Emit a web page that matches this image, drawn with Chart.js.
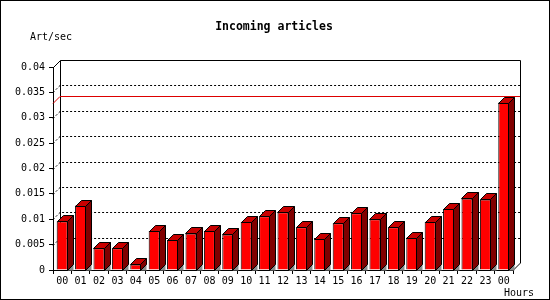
<!DOCTYPE html>
<html>
<head>
<meta charset="utf-8">
<script src="https://cdn.jsdelivr.net/npm/chart.js@4.4.1/dist/chart.umd.min.js"></script>
<style>
  html, body { margin: 0; padding: 0; background: #fff; }
  canvas { display: block; }
</style>
</head>
<body>
<canvas id="chart" width="550" height="300"></canvas>
<script>
// Hours of the day (last one is the next midnight)
const hours = ['00', '01', '02', '03', '04', '05', '06', '07', '08', '09', '10', '11',
               '12', '13', '14', '15', '16', '17', '18', '19', '20', '21', '22', '23', '00'];
// Incoming articles per second
const artPerSec = [0.0096, 0.0127, 0.0043, 0.0043, 0.0011, 0.0077, 0.0059, 0.0072, 0.0077,
                   0.0070, 0.0095, 0.0106, 0.0114, 0.0084, 0.0062, 0.0092, 0.0112, 0.0100,
                   0.0084, 0.0064, 0.0095, 0.0120, 0.0141, 0.0139, 0.0330];
const yTicks = [0, 0.005, 0.01, 0.015, 0.02, 0.025, 0.03, 0.035, 0.04];

const DEPTH = 7;      // back wall offset
const BAR_DEPTH = 6;  // bar 3d offset
const mono = "'DejaVu Sans Mono', 'Liberation Mono', monospace";

// back wall, dotted grid and the max line, drawn before the bars
const wallPlugin = {
    id: 'wall',
    beforeDatasetsDraw(chart) {
        const ctx = chart.ctx;
        const y = chart.scales.y;
        const left = chart.chartArea.left, right = chart.chartArea.right;
        const bottom = y.getPixelForValue(0);
        ctx.save();
        ctx.lineWidth = 1;

        // dotted grid lines on the back wall
        ctx.strokeStyle = '#000';
        ctx.setLineDash([2, 2]);
        yTicks.forEach(v => {
            if (v === 0 || v === yTicks[yTicks.length - 1]) return;
            const py = Math.round(y.getPixelForValue(v)) + 0.5;
            ctx.beginPath();
            ctx.moveTo(left, py);
            ctx.lineTo(left + DEPTH, py - DEPTH);
            ctx.lineTo(right + DEPTH, py - DEPTH);
            ctx.stroke();
        });
        ctx.setLineDash([]);

        // wall frame
        const topY = Math.round(y.getPixelForValue(yTicks[yTicks.length - 1])) + 0.5;
        ctx.beginPath();
        ctx.moveTo(left + 0.5, topY);
        ctx.lineTo(left + DEPTH + 0.5, topY - DEPTH);
        ctx.lineTo(right + DEPTH + 0.5, topY - DEPTH);
        ctx.lineTo(right + DEPTH + 0.5, bottom - DEPTH);
        ctx.lineTo(right + 0.5, bottom);
        ctx.moveTo(left + DEPTH + 0.5, topY - DEPTH);
        ctx.lineTo(left + DEPTH + 0.5, bottom - DEPTH);
        ctx.stroke();

        // max line
        const maxY = Math.round(y.getPixelForValue(Math.max(...artPerSec))) + 0.5;
        ctx.strokeStyle = '#dd0000';
        ctx.beginPath();
        ctx.moveTo(left, maxY);
        ctx.lineTo(left + DEPTH, maxY - DEPTH);
        ctx.lineTo(right + DEPTH, maxY - DEPTH);
        ctx.stroke();
        ctx.restore();
    },
    afterDatasetsDraw(chart) {
        const ctx = chart.ctx;
        const bottom = chart.scales.y.getPixelForValue(0);
        const d = BAR_DEPTH;
        ctx.save();
        ctx.lineWidth = 1;
        ctx.strokeStyle = '#000';
        chart.getDatasetMeta(0).data.forEach(bar => {
            const x0 = Math.round(bar.x - bar.width / 2) + 0.5;
            const x1 = Math.round(bar.x + bar.width / 2) - 0.5;
            const yt = Math.round(bar.y) + 0.5;
            const yb = Math.round(bottom) + 0.5;
            // floor shadow
            ctx.fillStyle = '#8c8c8c';
            ctx.beginPath();
            ctx.moveTo(x1, yb);
            ctx.lineTo(x1 + d, yb - d);
            ctx.lineTo(x1 + d, yb);
            ctx.closePath();
            ctx.fill();
            // side
            ctx.fillStyle = '#800000';
            ctx.beginPath();
            ctx.moveTo(x1, yt);
            ctx.lineTo(x1 + d, yt - d);
            ctx.lineTo(x1 + d, yb - d);
            ctx.lineTo(x1, yb);
            ctx.closePath();
            ctx.fill();
            ctx.stroke();
            // top
            ctx.fillStyle = '#c80000';
            ctx.beginPath();
            ctx.moveTo(x0, yt);
            ctx.lineTo(x0 + d, yt - d);
            ctx.lineTo(x1 + d, yt - d);
            ctx.lineTo(x1, yt);
            ctx.closePath();
            ctx.fill();
            ctx.stroke();
        });
        ctx.restore();
    },
    afterDraw(chart) {
        const ctx = chart.ctx;
        ctx.save();
        ctx.fillStyle = '#000';
        ctx.textBaseline = 'middle';
        ctx.font = 'bold 11.5px ' + mono;
        ctx.textAlign = 'center';
        ctx.fillText('Incoming articles', 274, 27);
        ctx.font = '10px ' + mono;
        ctx.textAlign = 'left';
        ctx.fillText('Art/sec', 30, 37);
        ctx.fillText('Hours', 504, 293);
        ctx.strokeStyle = '#000';
        ctx.lineWidth = 1;
        ctx.strokeRect(0.5, 0.5, 549, 299);
        ctx.restore();
    }
};

new Chart(document.getElementById('chart'), {
    type: 'bar',
    data: {
        labels: hours,
        datasets: [{
            data: artPerSec,
            backgroundColor: '#ff0000',
            borderColor: '#000',
            borderWidth: 1,
            categoryPercentage: 1,
            barPercentage: 0.6
        }]
    },
    options: {
        responsive: false,
        animation: false,
        devicePixelRatio: 1,
        layout: { padding: { top: 67, right: 37, left: 0, bottom: 0 } },
        plugins: {
            legend: { display: false },
            tooltip: { enabled: false },
            title: { display: false }
        },
        scales: {
            x: {
                grid: { drawOnChartArea: false, drawTicks: true, tickLength: 4, color: '#000', offset: true },
                border: { display: true, color: '#000' },
                ticks: { color: '#000', font: { family: mono, size: 10 }, padding: 1, maxRotation: 0, autoSkip: false },
                afterFit: s => { s.height = 30; }
            },
            y: {
                min: 0,
                max: 0.04,
                afterBuildTicks: s => { s.ticks = yTicks.map(v => ({ value: v })); },
                grid: { drawOnChartArea: false, drawTicks: true, tickLength: 4, color: '#000' },
                border: { display: true, color: '#000' },
                ticks: {
                    color: '#000',
                    font: { family: mono, size: 10 },
                    padding: 4,
                    callback: v => String(+v.toFixed(3))
                },
                afterFit: s => { s.width = 53; }
            }
        }
    },
    plugins: [wallPlugin]
});
</script>
</body>
</html>
